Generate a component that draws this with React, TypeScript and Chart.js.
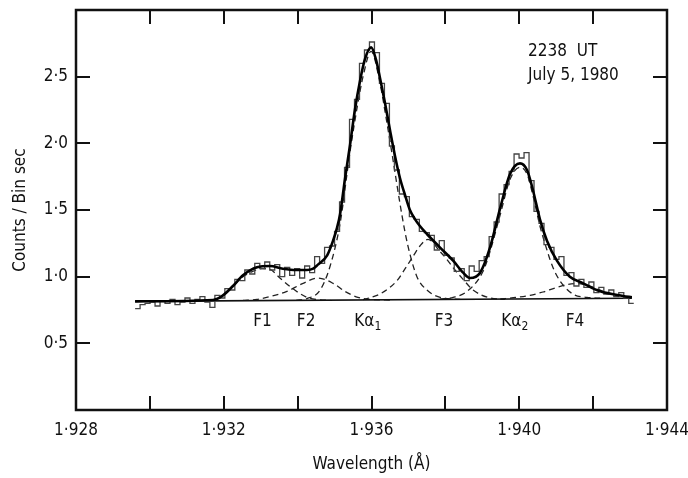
import { useEffect, useRef } from "react";
import { Chart, registerables } from "chart.js";

Chart.register(...registerables);

const FONT = '"DejaVu Sans Condensed", "DejaVu Sans", sans-serif';

// Observed spectrum: counts per bin, equal-width bins from binStart (Å)
const binStart = 1.9296;
const binWidth = 0.000135;
const binCounts = [
  0.76, 0.79, 0.8, 0.81, 0.78, 0.82, 0.8, 0.83, 0.79, 0.81,
  0.84, 0.8, 0.83, 0.85, 0.81, 0.77, 0.86, 0.84, 0.91, 0.9,
  0.98, 0.97, 1.05, 1.02, 1.1, 1.06, 1.11, 1.05, 1.09, 1.0,
  1.07, 1.01, 1.06, 0.99, 1.08, 1.03, 1.15, 1.1, 1.22, 1.23,
  1.34, 1.56, 1.82, 2.18, 2.33, 2.6, 2.7, 2.76, 2.68, 2.45,
  2.3, 1.98, 1.8, 1.62, 1.6, 1.45, 1.43, 1.34, 1.33, 1.31,
  1.2, 1.27, 1.16, 1.14, 1.04, 1.06, 0.97, 1.08, 1.04, 1.12,
  1.15, 1.3, 1.41, 1.62, 1.69, 1.79, 1.92, 1.89, 1.93, 1.72,
  1.49, 1.4, 1.24, 1.22, 1.13, 1.15, 1.01, 1.03, 0.93, 0.98,
  0.92, 0.96, 0.88, 0.92, 0.87, 0.9, 0.85, 0.88, 0.84, 0.8,
];

// Total fitted profile
const fitWavelength = [
  1.9296, 1.93171, 1.93198, 1.93225, 1.93252, 1.9329, 1.93325, 1.9336, 1.93396, 1.93425,
  1.93442, 1.93455, 1.9348, 1.93496, 1.93507, 1.93515, 1.93528, 1.93542, 1.93555, 1.93569,
  1.93582, 1.93599, 1.93612, 1.93623, 1.93636, 1.9365, 1.93664, 1.93677, 1.93691, 1.93704,
  1.93718, 1.93731, 1.9375, 1.93785, 1.93821, 1.93848, 1.93867, 1.93894, 1.93921, 1.93948,
  1.93975, 1.94002, 1.94021, 1.94037, 1.94056, 1.94075, 1.94102, 1.94137, 1.94173, 1.94219,
  1.94281, 1.94305,
];
const fitCounts = [
  0.815, 0.825, 0.86, 0.93, 1.01, 1.07, 1.08, 1.06, 1.05, 1.05,
  1.06, 1.09, 1.16, 1.27, 1.37, 1.47, 1.73, 1.99, 2.25, 2.47,
  2.63, 2.72, 2.63, 2.49, 2.31, 2.1, 1.9, 1.74, 1.61, 1.5,
  1.43, 1.38, 1.32, 1.22, 1.12, 1.03, 0.99, 1.03, 1.22, 1.51,
  1.77, 1.85, 1.8, 1.65, 1.43, 1.27, 1.12, 1.0, 0.95, 0.89,
  0.855, 0.845,
];

// Continuum level
const baseWavelength = [1.9296, 1.94305];
const baseCounts = [0.815, 0.838];

// Individual line components (each drawn on top of the continuum)
const f1Wavelength = [1.93109, 1.93171, 1.93198, 1.93225, 1.93252, 1.93271, 1.93304, 1.93325, 1.93352, 1.93387, 1.93425, 1.93461, 1.93488];
const f1Counts = [0.82, 0.826, 0.86, 0.93, 1.0, 1.03, 1.06, 1.055, 0.99, 0.91, 0.845, 0.826, 0.823];

const f2Wavelength = [1.93252, 1.9329, 1.93325, 1.93371, 1.93415, 1.93455, 1.93496, 1.93528, 1.93563, 1.93601, 1.9365];
const f2Counts = [0.822, 0.83, 0.85, 0.89, 0.95, 0.99, 0.95, 0.89, 0.845, 0.828, 0.825];

const ka1Wavelength = [1.93396, 1.93425, 1.93461, 1.93488, 1.93515, 1.93542, 1.93563, 1.93577, 1.93599, 1.93623, 1.93642, 1.93658, 1.93677, 1.93691, 1.93704, 1.93723, 1.9375, 1.93793, 1.9384];
const ka1Counts = [0.822, 0.835, 0.9, 1.08, 1.4, 1.94, 2.3, 2.5, 2.69, 2.45, 2.15, 1.88, 1.55, 1.33, 1.17, 1.0, 0.9, 0.84, 0.83];

const f3Wavelength = [1.93577, 1.93623, 1.93669, 1.93691, 1.93712, 1.93731, 1.93753, 1.93785, 1.93804, 1.93826, 1.93848, 1.93875, 1.93921, 1.93961];
const f3Counts = [0.828, 0.87, 0.97, 1.06, 1.15, 1.23, 1.28, 1.19, 1.13, 1.05, 0.98, 0.9, 0.84, 0.83];

const ka2Wavelength = [1.93785, 1.93821, 1.93859, 1.93902, 1.93921, 1.93948, 1.93975, 1.94002, 1.94021, 1.94037, 1.94056, 1.94075, 1.94091, 1.9411, 1.94145, 1.94183, 1.94219];
const ka2Counts = [0.832, 0.845, 0.89, 1.04, 1.19, 1.46, 1.73, 1.82, 1.77, 1.61, 1.38, 1.2, 1.07, 0.97, 0.87, 0.845, 0.838];

const f4Wavelength = [1.93948, 1.93994, 1.94029, 1.94064, 1.94097, 1.94129, 1.94156, 1.94191, 1.94232, 1.94281, 1.94305];
const f4Counts = [0.832, 0.845, 0.86, 0.885, 0.915, 0.94, 0.948, 0.93, 0.885, 0.855, 0.845];

// Line identifications
const lineNames = ["F1", "F2", "K\u03b1", "F3", "K\u03b1", "F4"];
const lineSubscripts = ["", "", "1", "", "2", ""];
const linePositions = [1.93305, 1.93423, 1.9359, 1.93796, 1.93988, 1.94151];
const lineLabelLevel = 0.66;

// Observation note
const noteLines = ["2238  UT", "July 5, 1980"];
const noteWavelength = 1.94024;
const noteLevels = [2.685, 2.51];

// Axes
const xTickValues = [1.928, 1.93, 1.932, 1.934, 1.936, 1.938, 1.94, 1.942, 1.944];
const xTickLabels = ["1\u00b7928", "", "1\u00b7932", "", "1\u00b7936", "", "1\u00b7940", "", "1\u00b7944"];
const yTickValues = [0.5, 1.0, 1.5, 2.0, 2.5];
const yTickLabels = ["0\u00b75", "1\u00b70", "1\u00b75", "2\u00b70", "2\u00b75"];

const pts = (xs: number[], ys: number[]) => xs.map((x, i) => ({ x, y: ys[i] }));

const TICK = 14;

const framePlugin = {
  id: "frameAndNotes",
  afterDatasetsDraw(chart: any) {
    const { ctx, chartArea: a, scales } = chart;
    const xs = scales.x;
    const ys = scales.y;
    ctx.save();
    ctx.strokeStyle = "#111";
    ctx.lineWidth = 2.5;
    ctx.strokeRect(a.left, a.top, a.right - a.left, a.bottom - a.top);
    ctx.lineWidth = 2;
    ctx.beginPath();
    for (const v of xTickValues) {
      const px = Math.round(xs.getPixelForValue(v));
      ctx.moveTo(px, a.bottom);
      ctx.lineTo(px, a.bottom - TICK);
      ctx.moveTo(px, a.top);
      ctx.lineTo(px, a.top + TICK);
    }
    for (const v of yTickValues) {
      const py = Math.round(ys.getPixelForValue(v));
      ctx.moveTo(a.left, py);
      ctx.lineTo(a.left + TICK, py);
      ctx.moveTo(a.right, py);
      ctx.lineTo(a.right - TICK, py);
    }
    ctx.stroke();

    ctx.fillStyle = "#111";
    ctx.textBaseline = "middle";
    const mainFont = `17px ${FONT}`;
    const subFont = `12px ${FONT}`;
    lineNames.forEach((name, i) => {
      const cx = xs.getPixelForValue(linePositions[i]);
      const cy = ys.getPixelForValue(lineLabelLevel);
      ctx.font = mainFont;
      const w = ctx.measureText(name).width;
      ctx.font = subFont;
      const ws = lineSubscripts[i] ? ctx.measureText(lineSubscripts[i]).width : 0;
      const x0 = cx - (w + ws) / 2;
      ctx.textAlign = "left";
      ctx.font = mainFont;
      ctx.fillText(name, x0, cy);
      if (lineSubscripts[i]) {
        ctx.font = subFont;
        ctx.fillText(lineSubscripts[i], x0 + w, cy + 5);
      }
    });

    ctx.font = mainFont;
    ctx.textAlign = "left";
    noteLines.forEach((t, i) => {
      ctx.fillText(t, xs.getPixelForValue(noteWavelength), ys.getPixelForValue(noteLevels[i]));
    });
    ctx.restore();
  },
};

// Keep the plot frame at fixed margins: labels may overhang the edges
const noScalePadding = (s: any) => {
  s.paddingLeft = 0;
  s.paddingRight = 0;
  s.paddingTop = 0;
  s.paddingBottom = 0;
};

export default function App() {
  const canvasRef = useRef<HTMLCanvasElement | null>(null);

  useEffect(() => {
    document.body.style.margin = "0";
    const canvas = canvasRef.current;
    if (!canvas) return;

    const histPoints = binCounts.map((c, i) => ({ x: binStart + i * binWidth, y: c }));
    histPoints.push({ x: binStart + binCounts.length * binWidth, y: binCounts[binCounts.length - 1] });

    const dashed = (data: { x: number; y: number }[]) => ({
      data,
      showLine: true,
      borderColor: "#222",
      borderWidth: 1.3,
      borderDash: [6, 4],
      pointRadius: 0,
      cubicInterpolationMode: "monotone" as const,
      tension: 0.4,
    });

    const chart = new Chart(canvas, {
      type: "scatter",
      data: {
        datasets: [
          {
            data: pts(fitWavelength, fitCounts),
            showLine: true,
            borderColor: "#000",
            borderWidth: 2.6,
            pointRadius: 0,
            cubicInterpolationMode: "monotone",
            tension: 0.4,
          },
          {
            data: histPoints,
            showLine: true,
            stepped: "before",
            borderColor: "#444",
            borderWidth: 1.3,
            pointRadius: 0,
          },
          {
            data: pts(baseWavelength, baseCounts),
            showLine: true,
            borderColor: "#111",
            borderWidth: 1.7,
            pointRadius: 0,
          },
          dashed(pts(f1Wavelength, f1Counts)),
          dashed(pts(f2Wavelength, f2Counts)),
          dashed(pts(ka1Wavelength, ka1Counts)),
          dashed(pts(f3Wavelength, f3Counts)),
          dashed(pts(ka2Wavelength, ka2Counts)),
          dashed(pts(f4Wavelength, f4Counts)),
        ] as any,
      },
      options: {
        animation: false,
        responsive: true,
        maintainAspectRatio: false,
        layout: { padding: { top: 10, right: 21, left: 0, bottom: 0 } },
        plugins: {
          legend: { display: false },
          tooltip: { enabled: false },
        },
        scales: {
          x: {
            type: "linear",
            min: 1.928,
            max: 1.944,
            afterBuildTicks: (s: any) => {
              s.ticks = xTickValues.map((v) => ({ value: v }));
            },
            afterFit: (s: any) => {
              s.height = 68;
              noScalePadding(s);
            },
            grid: { display: false, drawTicks: false },
            border: { display: false },
            ticks: {
              autoSkip: false,
              maxRotation: 0,
              padding: 10,
              color: "#111",
              font: { family: FONT, size: 17 },
              callback: (_v: any, i: number) => xTickLabels[i],
            },
            title: {
              display: true,
              text: "Wavelength (\u00c5)",
              color: "#111",
              font: { family: FONT, size: 17 },
              padding: { top: 0, bottom: 3 },
            },
          },
          y: {
            type: "linear",
            min: 0,
            max: 3,
            afterBuildTicks: (s: any) => {
              s.ticks = yTickValues.map((v) => ({ value: v }));
            },
            afterFit: (s: any) => {
              s.width = 76;
              noScalePadding(s);
            },
            grid: { display: false, drawTicks: false },
            border: { display: false },
            ticks: {
              autoSkip: false,
              padding: 8,
              color: "#111",
              font: { family: FONT, size: 17 },
              callback: (_v: any, i: number) => yTickLabels[i],
            },
            title: {
              display: true,
              text: "Counts / Bin sec",
              color: "#111",
              font: { family: FONT, size: 17 },
              padding: { top: 10, bottom: 0 },
            },
          },
        },
      },
      plugins: [framePlugin],
    });

    return () => chart.destroy();
  }, []);

  return (
    <div style={{ width: 688, height: 478, position: "relative", background: "#fff" }}>
      <canvas ref={canvasRef} />
    </div>
  );
}
